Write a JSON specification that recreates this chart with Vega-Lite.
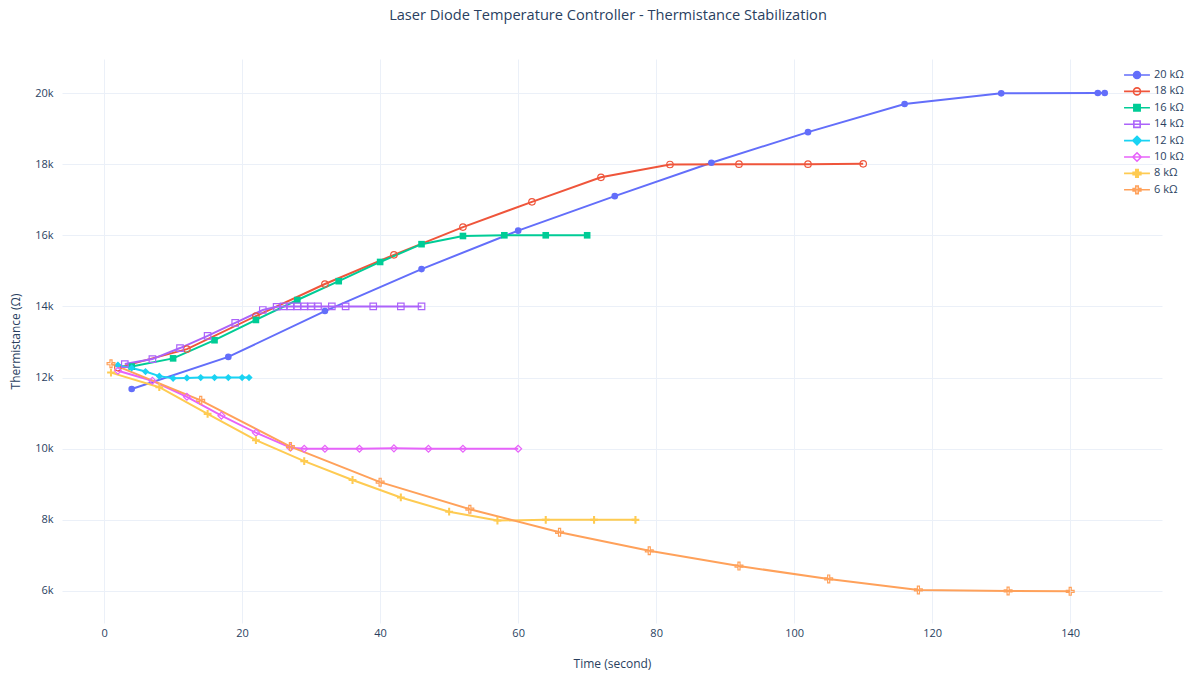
{
  "$schema": "https://vega.github.io/schema/vega-lite/v6.json",
  "width": 1100,
  "height": 564,
  "autosize": {"type": "none"},
  "padding": {"left": 62, "top": 59, "right": 22, "bottom": 52},
  "background": "white",
  "title": {
    "text": "Laser Diode Temperature Controller - Thermistance Stabilization",
    "font": "Open Sans",
    "fontSize": 14.6,
    "fontWeight": "normal",
    "color": "#2a3f5f",
    "anchor": "middle",
    "dx": -4,
    "offset": 36
  },
  "config": {
    "view": {"stroke": null},
    "axis": {
      "gridColor": "#EBF0F8",
      "gridWidth": 1,
      "domain": false,
      "ticks": false,
      "labelFont": "Open Sans",
      "labelFontSize": 11,
      "labelColor": "#2a3f5f",
      "titleFont": "Open Sans",
      "titleFontSize": 12,
      "titleFontWeight": "normal",
      "titleColor": "#2a3f5f"
    }
  },
  "data": {
    "values": [
      {"series": "20 kΩ", "t": 4, "r": 11680},
      {"series": "20 kΩ", "t": 18, "r": 12580},
      {"series": "20 kΩ", "t": 32, "r": 13870},
      {"series": "20 kΩ", "t": 46, "r": 15050},
      {"series": "20 kΩ", "t": 60, "r": 16130},
      {"series": "20 kΩ", "t": 74, "r": 17100},
      {"series": "20 kΩ", "t": 88, "r": 18040},
      {"series": "20 kΩ", "t": 102, "r": 18900},
      {"series": "20 kΩ", "t": 116, "r": 19690},
      {"series": "20 kΩ", "t": 130, "r": 19990},
      {"series": "20 kΩ", "t": 144, "r": 20000},
      {"series": "20 kΩ", "t": 145, "r": 20000},

      {"series": "18 kΩ", "t": 2, "r": 12280},
      {"series": "18 kΩ", "t": 12, "r": 12800},
      {"series": "18 kΩ", "t": 22, "r": 13730},
      {"series": "18 kΩ", "t": 32, "r": 14630},
      {"series": "18 kΩ", "t": 42, "r": 15450},
      {"series": "18 kΩ", "t": 52, "r": 16230},
      {"series": "18 kΩ", "t": 62, "r": 16940},
      {"series": "18 kΩ", "t": 72, "r": 17630},
      {"series": "18 kΩ", "t": 82, "r": 17990},
      {"series": "18 kΩ", "t": 92, "r": 18000},
      {"series": "18 kΩ", "t": 102, "r": 18000},
      {"series": "18 kΩ", "t": 110, "r": 18010},

      {"series": "16 kΩ", "t": 4, "r": 12310},
      {"series": "16 kΩ", "t": 10, "r": 12540},
      {"series": "16 kΩ", "t": 16, "r": 13050},
      {"series": "16 kΩ", "t": 22, "r": 13620},
      {"series": "16 kΩ", "t": 28, "r": 14180},
      {"series": "16 kΩ", "t": 34, "r": 14710},
      {"series": "16 kΩ", "t": 40, "r": 15250},
      {"series": "16 kΩ", "t": 46, "r": 15750},
      {"series": "16 kΩ", "t": 52, "r": 15980},
      {"series": "16 kΩ", "t": 58, "r": 16000},
      {"series": "16 kΩ", "t": 64, "r": 16000},
      {"series": "16 kΩ", "t": 70, "r": 16000},

      {"series": "14 kΩ", "t": 3, "r": 12380},
      {"series": "14 kΩ", "t": 7, "r": 12520},
      {"series": "14 kΩ", "t": 11, "r": 12830},
      {"series": "14 kΩ", "t": 15, "r": 13170},
      {"series": "14 kΩ", "t": 19, "r": 13540},
      {"series": "14 kΩ", "t": 23, "r": 13900},
      {"series": "14 kΩ", "t": 25, "r": 13990},
      {"series": "14 kΩ", "t": 26, "r": 14000},
      {"series": "14 kΩ", "t": 27, "r": 14000},
      {"series": "14 kΩ", "t": 28, "r": 14000},
      {"series": "14 kΩ", "t": 29, "r": 14000},
      {"series": "14 kΩ", "t": 30, "r": 14000},
      {"series": "14 kΩ", "t": 31, "r": 14000},
      {"series": "14 kΩ", "t": 33, "r": 14000},
      {"series": "14 kΩ", "t": 35, "r": 14000},
      {"series": "14 kΩ", "t": 39, "r": 14000},
      {"series": "14 kΩ", "t": 43, "r": 14000},
      {"series": "14 kΩ", "t": 46, "r": 14000},

      {"series": "12 kΩ", "t": 2, "r": 12350},
      {"series": "12 kΩ", "t": 4, "r": 12270},
      {"series": "12 kΩ", "t": 6, "r": 12170},
      {"series": "12 kΩ", "t": 8, "r": 12040},
      {"series": "12 kΩ", "t": 10, "r": 11980},
      {"series": "12 kΩ", "t": 12, "r": 11990},
      {"series": "12 kΩ", "t": 14, "r": 12000},
      {"series": "12 kΩ", "t": 16, "r": 12000},
      {"series": "12 kΩ", "t": 18, "r": 12000},
      {"series": "12 kΩ", "t": 20, "r": 12000},
      {"series": "12 kΩ", "t": 21, "r": 12000},

      {"series": "10 kΩ", "t": 2, "r": 12190},
      {"series": "10 kΩ", "t": 7, "r": 11910},
      {"series": "10 kΩ", "t": 12, "r": 11460},
      {"series": "10 kΩ", "t": 17, "r": 10930},
      {"series": "10 kΩ", "t": 22, "r": 10450},
      {"series": "10 kΩ", "t": 27, "r": 10030},
      {"series": "10 kΩ", "t": 29, "r": 10000},
      {"series": "10 kΩ", "t": 32, "r": 10000},
      {"series": "10 kΩ", "t": 37, "r": 10000},
      {"series": "10 kΩ", "t": 42, "r": 10010},
      {"series": "10 kΩ", "t": 47, "r": 10000},
      {"series": "10 kΩ", "t": 52, "r": 10000},
      {"series": "10 kΩ", "t": 60, "r": 10000},

      {"series": "8 kΩ", "t": 1, "r": 12140},
      {"series": "8 kΩ", "t": 8, "r": 11730},
      {"series": "8 kΩ", "t": 15, "r": 10980},
      {"series": "8 kΩ", "t": 22, "r": 10240},
      {"series": "8 kΩ", "t": 29, "r": 9650},
      {"series": "8 kΩ", "t": 36, "r": 9120},
      {"series": "8 kΩ", "t": 43, "r": 8630},
      {"series": "8 kΩ", "t": 50, "r": 8230},
      {"series": "8 kΩ", "t": 57, "r": 7980},
      {"series": "8 kΩ", "t": 64, "r": 8000},
      {"series": "8 kΩ", "t": 71, "r": 8000},
      {"series": "8 kΩ", "t": 77, "r": 8000},

      {"series": "6 kΩ", "t": 1, "r": 12390},
      {"series": "6 kΩ", "t": 14, "r": 11360},
      {"series": "6 kΩ", "t": 27, "r": 10060},
      {"series": "6 kΩ", "t": 40, "r": 9060},
      {"series": "6 kΩ", "t": 53, "r": 8300},
      {"series": "6 kΩ", "t": 66, "r": 7650},
      {"series": "6 kΩ", "t": 79, "r": 7130},
      {"series": "6 kΩ", "t": 92, "r": 6700},
      {"series": "6 kΩ", "t": 105, "r": 6340},
      {"series": "6 kΩ", "t": 118, "r": 6030},
      {"series": "6 kΩ", "t": 131, "r": 6000},
      {"series": "6 kΩ", "t": 140, "r": 5990}
    ]
  },
  "encoding": {
    "x": {
      "field": "t", "type": "quantitative",
      "scale": {"domain": [-6.1, 153.3], "nice": false, "zero": false},
      "axis": {"values": [0, 20, 40, 60, 80, 100, 120, 140], "title": "Time (second)", "labelPadding": 4, "titlePadding": 20}
    },
    "y": {
      "field": "r", "type": "quantitative",
      "scale": {"domain": [5100, 20956], "nice": false, "zero": false},
      "axis": {"values": [6000, 8000, 10000, 12000, 14000, 16000, 18000, 20000], "format": "~s", "title": "Thermistance (Ω)", "labelPadding": 9, "titlePadding": 12}
    },
    "color": {
      "field": "series", "type": "nominal",
      "scale": {
        "domain": ["20 kΩ", "18 kΩ", "16 kΩ", "14 kΩ", "12 kΩ", "10 kΩ", "8 kΩ", "6 kΩ"],
        "range": ["#636efa", "#EF553B", "#00cc96", "#ab63fa", "#19d3f3", "#e763fa", "#fecb52", "#ffa15a"]
      },
      "legend": {
        "title": null, "orient": "none", "legendX": 1069.5, "legendY": 10.5,
        "padding": 0, "symbolSize": 49, "symbolStrokeWidth": 1.6,
        "labelOffset": 11.5, "rowPadding": 1.4, "gridAlign": "all",
        "labelFont": "Open Sans", "labelFontSize": 11, "labelColor": "#2a3f5f",
        "encode": {
          "symbols": {
            "update": {
              "shape": {"signal": "(datum.value === '20 kΩ' || datum.value === '18 kΩ') ? 'M-3.7,0H3.7M-1,0A1,1 0 1,0 1,0A1,1 0 1,0 -1,0Z' : (datum.value === '16 kΩ' || datum.value === '14 kΩ') ? 'M-3.7,0H3.7M-0.9,-0.9H0.9V0.9H-0.9Z' : (datum.value === '12 kΩ' || datum.value === '10 kΩ') ? 'M-3.7,0H3.7M0,-1.2L1.2,0L0,1.2L-1.2,0Z' : 'M-3.7,0H3.7M-0.35,-1.1H0.35V-0.35H1.1V0.35H0.35V1.1H-0.35V0.35H-1.1V-0.35H-0.35Z'"},
              "fill": {"signal": "(datum.value === '18 kΩ' || datum.value === '14 kΩ' || datum.value === '10 kΩ' || datum.value === '6 kΩ') ? 'transparent' : scale('color', datum.value)"},
              "fillOpacity": {"signal": "(datum.value === '18 kΩ' || datum.value === '14 kΩ' || datum.value === '10 kΩ' || datum.value === '6 kΩ') ? 0 : 1"},
              "stroke": {"signal": "scale('color', datum.value)"},
              "strokeWidth": {"value": 1.6},
              "size": {"value": 49},
              "opacity": {"value": 1}
            }
          }
        }
      }
    }
  },
  "layer": [
    {
      "data": {"values": [{}]},
      "mark": {"type": "rule", "color": "#EBF0F8", "strokeWidth": 2},
      "encoding": {
        "x": {"datum": 0, "type": "quantitative"},
        "y": null,
        "color": null
      }
    },
    {
      "mark": {"type": "line", "strokeWidth": 2}
    },
    {
      "transform": [{"filter": {"field": "series", "equal": "20 kΩ"}}],
      "mark": {"type": "point", "shape": "circle", "filled": true, "size": 44, "opacity": 1}
    },
    {
      "transform": [{"filter": {"field": "series", "equal": "18 kΩ"}}],
      "mark": {"type": "point", "shape": "circle", "filled": false, "size": 42, "strokeWidth": 1.2, "opacity": 1}
    },
    {
      "transform": [{"filter": {"field": "series", "equal": "16 kΩ"}}],
      "mark": {"type": "point", "shape": "square", "filled": true, "size": 44, "opacity": 1}
    },
    {
      "transform": [{"filter": {"field": "series", "equal": "14 kΩ"}}],
      "mark": {"type": "point", "shape": "square", "filled": false, "size": 42, "strokeWidth": 1.2, "opacity": 1}
    },
    {
      "transform": [{"filter": {"field": "series", "equal": "12 kΩ"}}],
      "mark": {"type": "point", "shape": "diamond", "filled": true, "size": 52, "opacity": 1}
    },
    {
      "transform": [{"filter": {"field": "series", "equal": "10 kΩ"}}],
      "mark": {"type": "point", "shape": "diamond", "filled": false, "size": 48, "strokeWidth": 1.2, "opacity": 1}
    },
    {
      "transform": [{"filter": {"field": "series", "equal": "8 kΩ"}}],
      "mark": {"type": "point", "shape": "M-0.32,-1.2H0.32V-0.32H1.2V0.32H0.32V1.2H-0.32V0.32H-1.2V-0.32H-0.32Z", "filled": true, "size": 42, "opacity": 1}
    },
    {
      "transform": [{"filter": {"field": "series", "equal": "6 kΩ"}}],
      "mark": {"type": "point", "shape": "M-0.32,-1.2H0.32V-0.32H1.2V0.32H0.32V1.2H-0.32V0.32H-1.2V-0.32H-0.32Z", "filled": false, "size": 42, "strokeWidth": 1.2, "opacity": 1}
    }
  ]
}
